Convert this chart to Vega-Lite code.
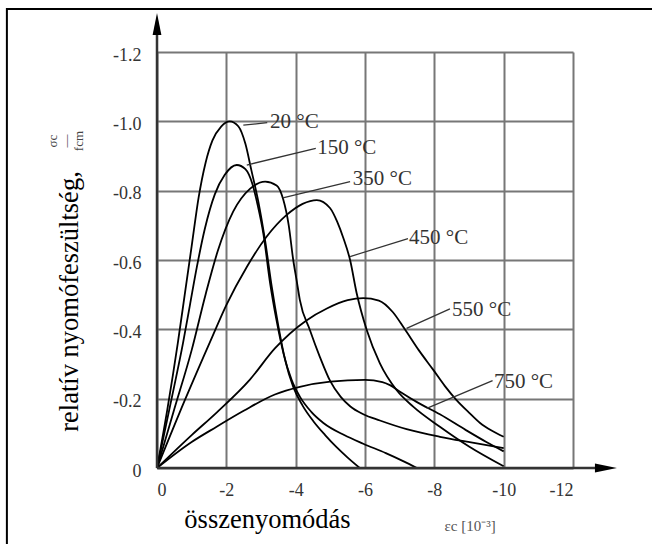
{
  "$schema": "https://vega.github.io/schema/vega-lite/v6.json",
  "width": 416,
  "height": 416,
  "autosize": {"type": "none"},
  "padding": {"left": 157, "top": 52, "right": 79, "bottom": 76},
  "background": "white",
  "config": {"view": {"stroke": null}, "font": "Liberation Serif"},
  "datasets": {
    "curves": [
      {"t":"20","x":0,"y":0},{"t":"20","x":-0.3,"y":-0.17},{"t":"20","x":-0.6,"y":-0.36},{"t":"20","x":-0.8,"y":-0.5},{"t":"20","x":-1.0,"y":-0.64},{"t":"20","x":-1.2,"y":-0.78},{"t":"20","x":-1.4,"y":-0.88},{"t":"20","x":-1.6,"y":-0.945},{"t":"20","x":-1.85,"y":-0.985},{"t":"20","x":-2.1,"y":-1.0},{"t":"20","x":-2.35,"y":-0.985},{"t":"20","x":-2.55,"y":-0.935},{"t":"20","x":-2.72,"y":-0.86},{"t":"20","x":-2.92,"y":-0.77},{"t":"20","x":-3.12,"y":-0.655},{"t":"20","x":-3.31,"y":-0.523},{"t":"20","x":-3.5,"y":-0.41},{"t":"20","x":-3.7,"y":-0.31},{"t":"20","x":-3.93,"y":-0.234},{"t":"20","x":-4.2,"y":-0.18},{"t":"20","x":-4.51,"y":-0.135},{"t":"20","x":-4.85,"y":-0.095},{"t":"20","x":-5.18,"y":-0.06},{"t":"20","x":-5.5,"y":-0.03},{"t":"20","x":-5.85,"y":0},
      {"t":"150","x":0,"y":0},{"t":"150","x":-0.4,"y":-0.19},{"t":"150","x":-0.75,"y":-0.36},{"t":"150","x":-0.95,"y":-0.47},{"t":"150","x":-1.15,"y":-0.58},{"t":"150","x":-1.38,"y":-0.69},{"t":"150","x":-1.67,"y":-0.79},{"t":"150","x":-1.95,"y":-0.845},{"t":"150","x":-2.3,"y":-0.874},{"t":"150","x":-2.55,"y":-0.862},{"t":"150","x":-2.75,"y":-0.82},{"t":"150","x":-2.9,"y":-0.76},{"t":"150","x":-3.07,"y":-0.675},{"t":"150","x":-3.26,"y":-0.535},{"t":"150","x":-3.45,"y":-0.425},{"t":"150","x":-3.65,"y":-0.33},{"t":"150","x":-3.88,"y":-0.255},{"t":"150","x":-4.12,"y":-0.206},{"t":"150","x":-4.45,"y":-0.162},{"t":"150","x":-4.8,"y":-0.13},{"t":"150","x":-5.4,"y":-0.095},{"t":"150","x":-5.95,"y":-0.07},{"t":"150","x":-6.6,"y":-0.043},{"t":"150","x":-7.1,"y":-0.02},{"t":"150","x":-7.5,"y":0},
      {"t":"350","x":0,"y":0},{"t":"350","x":-0.5,"y":-0.17},{"t":"350","x":-1.0,"y":-0.34},{"t":"350","x":-1.4,"y":-0.5},{"t":"350","x":-1.75,"y":-0.625},{"t":"350","x":-2.2,"y":-0.74},{"t":"350","x":-2.68,"y":-0.805},{"t":"350","x":-3.12,"y":-0.826},{"t":"350","x":-3.45,"y":-0.815},{"t":"350","x":-3.64,"y":-0.775},{"t":"350","x":-3.8,"y":-0.7},{"t":"350","x":-3.93,"y":-0.6},{"t":"350","x":-4.03,"y":-0.54},{"t":"350","x":-4.12,"y":-0.485},{"t":"350","x":-4.41,"y":-0.398},{"t":"350","x":-4.7,"y":-0.32},{"t":"350","x":-4.99,"y":-0.252},{"t":"350","x":-5.3,"y":-0.205},{"t":"350","x":-5.57,"y":-0.178},{"t":"350","x":-5.95,"y":-0.155},{"t":"350","x":-6.43,"y":-0.137},{"t":"350","x":-7.2,"y":-0.112},{"t":"350","x":-8.16,"y":-0.09},{"t":"350","x":-9.1,"y":-0.073},{"t":"350","x":-10,"y":-0.057},
      {"t":"450","x":0,"y":0},{"t":"450","x":-0.8,"y":-0.195},{"t":"450","x":-1.6,"y":-0.38},{"t":"450","x":-2.0,"y":-0.47},{"t":"450","x":-2.59,"y":-0.58},{"t":"450","x":-3.16,"y":-0.667},{"t":"450","x":-3.74,"y":-0.73},{"t":"450","x":-4.2,"y":-0.762},{"t":"450","x":-4.61,"y":-0.773},{"t":"450","x":-4.99,"y":-0.75},{"t":"450","x":-5.2,"y":-0.71},{"t":"450","x":-5.37,"y":-0.665},{"t":"450","x":-5.57,"y":-0.6},{"t":"450","x":-5.76,"y":-0.504},{"t":"450","x":-6.05,"y":-0.398},{"t":"450","x":-6.43,"y":-0.302},{"t":"450","x":-6.91,"y":-0.225},{"t":"450","x":-7.39,"y":-0.177},{"t":"450","x":-8.16,"y":-0.119},{"t":"450","x":-9.0,"y":-0.062},{"t":"450","x":-10,"y":-0.005},
      {"t":"550","x":0,"y":0},{"t":"550","x":-1.0,"y":-0.095},{"t":"550","x":-1.72,"y":-0.16},{"t":"550","x":-2.68,"y":-0.255},{"t":"550","x":-3.4,"y":-0.345},{"t":"550","x":-4.3,"y":-0.425},{"t":"550","x":-4.9,"y":-0.46},{"t":"550","x":-5.5,"y":-0.484},{"t":"550","x":-5.95,"y":-0.49},{"t":"550","x":-6.4,"y":-0.483},{"t":"550","x":-6.8,"y":-0.45},{"t":"550","x":-7.15,"y":-0.4},{"t":"550","x":-7.55,"y":-0.34},{"t":"550","x":-7.97,"y":-0.283},{"t":"550","x":-8.3,"y":-0.237},{"t":"550","x":-8.64,"y":-0.196},{"t":"550","x":-9.0,"y":-0.16},{"t":"550","x":-9.32,"y":-0.13},{"t":"550","x":-9.65,"y":-0.108},{"t":"550","x":-10,"y":-0.09},
      {"t":"750","x":0,"y":0},{"t":"750","x":-1.0,"y":-0.075},{"t":"750","x":-1.72,"y":-0.119},{"t":"750","x":-2.5,"y":-0.165},{"t":"750","x":-3.4,"y":-0.212},{"t":"750","x":-4.12,"y":-0.234},{"t":"750","x":-5.0,"y":-0.249},{"t":"750","x":-6.0,"y":-0.254},{"t":"750","x":-6.5,"y":-0.248},{"t":"750","x":-6.72,"y":-0.239},{"t":"750","x":-7.01,"y":-0.22},{"t":"750","x":-7.5,"y":-0.19},{"t":"750","x":-8.16,"y":-0.155},{"t":"750","x":-8.9,"y":-0.11},{"t":"750","x":-9.5,"y":-0.075},{"t":"750","x":-10,"y":-0.048}
    ],
    "labels": [
      {"label":"20 °C","x1":-2.49,"y1":-0.989,"x2":-3.18,"y2":-0.996,"tx":-3.26,"ty":-0.999},
      {"label":"150 °C","x1":-2.59,"y1":-0.874,"x2":-4.58,"y2":-0.922,"tx":-4.62,"ty":-0.923},
      {"label":"350 °C","x1":-3.63,"y1":-0.779,"x2":-5.57,"y2":-0.826,"tx":-5.65,"ty":-0.833},
      {"label":"450 °C","x1":-5.57,"y1":-0.61,"x2":-7.24,"y2":-0.662,"tx":-7.27,"ty":-0.663},
      {"label":"550 °C","x1":-7.2,"y1":-0.403,"x2":-8.45,"y2":-0.459,"tx":-8.51,"ty":-0.456},
      {"label":"750 °C","x1":-7.78,"y1":-0.172,"x2":-9.68,"y2":-0.252,"tx":-9.72,"ty":-0.248}
    ]
  },
  "encoding": {
    "x": {"type": "quantitative", "scale": {"domain": [0, -12], "nice": false, "zero": false}},
    "y": {"type": "quantitative", "scale": {"domain": [0, -1.2], "nice": false, "zero": false}}
  },
  "layer": [
    {
      "data": {"name": "curves"},
      "mark": {"type": "line", "color": "black", "strokeWidth": 1.8, "interpolate": "monotone"},
      "encoding": {
        "x": {
          "field": "x", "type": "quantitative",
          "axis": {
            "values": [0, -2, -4, -6, -8, -10, -12],
            "labelExpr": "datum.value == 0 ? '0' : '-' + format(-datum.value, 'd')",
            "domain": false, "ticks": false,
            "grid": true, "gridColor": "#777", "gridWidth": 2,
            "labelFont": "Liberation Serif", "labelFontSize": 18, "labelColor": "#333", "labelPadding": 13,
            "title": "összenyomódás", "titleFont": "Liberation Serif", "titleFontSize": 26.5, "titleFontWeight": "normal", "titleColor": "black",
            "titleX": 110, "titleY": 59, "titleAlign": "center", "titleBaseline": "alphabetic"
          }
        },
        "y": {
          "field": "y", "type": "quantitative",
          "axis": {
            "values": [0, -0.2, -0.4, -0.6, -0.8, -1.0, -1.2],
            "labelExpr": "datum.value == 0 ? '0' : '-' + format(-datum.value, '.1f')",
            "domain": false, "ticks": false,
            "grid": true, "gridColor": "#777", "gridWidth": 2,
            "labelFont": "Liberation Serif", "labelFontSize": 18, "labelColor": "#333", "labelPadding": 16, "labelOffset": 3,
            "title": "relatív nyomófeszültség,", "titleFont": "Liberation Serif", "titleFontSize": 26.5, "titleFontWeight": "normal", "titleColor": "black",
            "titleX": -80, "titleY": 249, "titleAlign": "center", "titleBaseline": "alphabetic", "titleAngle": 270
          }
        },
        "detail": {"field": "t", "type": "nominal"}
      }
    },
    {
      "data": {"values": [{}]},
      "mark": {"type": "rect", "fill": null, "stroke": "black", "strokeWidth": 2},
      "encoding": {
        "x": {"datum": 4.33, "type": "quantitative"},
        "x2": {"datum": -14.6},
        "y": {"datum": -1.324, "type": "quantitative"},
        "y2": {"datum": 0.27}
      }
    },
    {
      "data": {"values": [{}]},
      "mark": {"type": "rule", "color": "#333", "strokeWidth": 2.5},
      "encoding": {
        "x": {"datum": 0, "type": "quantitative"},
        "x2": {"datum": -12.9},
        "y": {"datum": 0, "type": "quantitative"}
      }
    },
    {
      "data": {"values": [{}]},
      "mark": {"type": "rule", "color": "#333", "strokeWidth": 2.5},
      "encoding": {
        "x": {"datum": 0, "type": "quantitative"},
        "y": {"datum": 0, "type": "quantitative"},
        "y2": {"datum": -1.27}
      }
    },
    {
      "data": {"values": [{}]},
      "mark": {"type": "point", "shape": "M1,0L-1,-0.4L-1,0.4Z", "filled": true, "color": "black", "opacity": 1, "size": 484},
      "encoding": {
        "x": {"datum": -12.95, "type": "quantitative"},
        "y": {"datum": 0, "type": "quantitative"}
      }
    },
    {
      "data": {"values": [{}]},
      "mark": {"type": "point", "shape": "M0,-1L-0.4,1L0.4,1Z", "filled": true, "color": "black", "opacity": 1, "size": 484},
      "encoding": {
        "x": {"datum": 0, "type": "quantitative"},
        "y": {"datum": -1.2806, "type": "quantitative"}
      }
    },
    {
      "data": {"name": "labels"},
      "mark": {"type": "rule", "color": "#333", "strokeWidth": 1.3},
      "encoding": {
        "x": {"field": "x1", "type": "quantitative"},
        "x2": {"field": "x2"},
        "y": {"field": "y1", "type": "quantitative"},
        "y2": {"field": "y2"}
      }
    },
    {
      "data": {"name": "labels"},
      "mark": {"type": "text", "align": "left", "baseline": "middle", "font": "Liberation Serif", "fontSize": 21, "color": "#333"},
      "encoding": {
        "x": {"field": "tx", "type": "quantitative"},
        "y": {"field": "ty", "type": "quantitative"},
        "text": {"field": "label"}
      }
    },
    {
      "data": {"values": [{"txt": "εc [10⁻³]"}]},
      "mark": {"type": "text", "align": "center", "baseline": "middle", "font": "Liberation Serif", "fontSize": 15, "color": "#555"},
      "encoding": {
        "x": {"datum": -9.03, "type": "quantitative"},
        "y": {"datum": 0.168, "type": "quantitative"},
        "text": {"field": "txt"}
      }
    },
    {
      "data": {"values": [{}]},
      "mark": {"type": "text", "align": "center", "baseline": "middle", "font": "Liberation Serif", "fontSize": 13, "color": "#444", "angle": 270, "lineHeight": 13, "text": ["σc", "—", "fcm"]},
      "encoding": {
        "x": {"datum": 3.0, "type": "quantitative"},
        "y": {"datum": -0.943, "type": "quantitative"}
      }
    }
  ]
}
